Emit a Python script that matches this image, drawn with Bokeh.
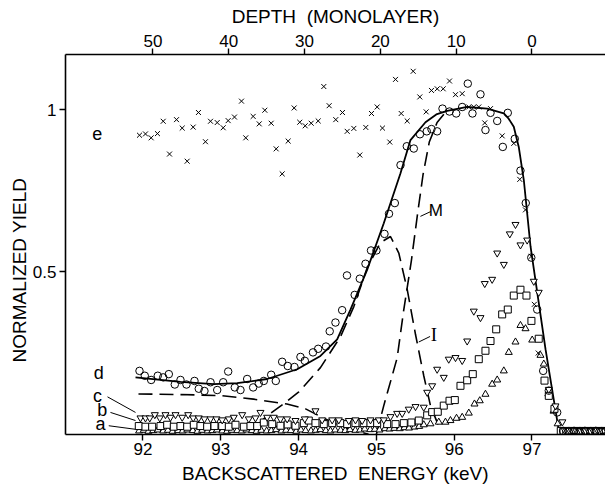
from bokeh.plotting import figure
from bokeh.models import Range1d, LinearAxis, FixedTicker, Title
from bokeh.embed import file_html
from bokeh.resources import INLINE
from bokeh.core.properties import value

# ---------------- data ----------------
x_ticks = [92, 93, 94, 95, 96, 97]
depth_ticks = [50, 40, 30, 20, 10, 0]
y_ticks = [0.5, 1]
y_tick_labels = {0.5: "0.5", 1: "1"}

# e : crosses
e_energy = [91.955, 92.032, 92.105, 92.186, 92.260, 92.341, 92.431, 92.504, 92.568, 92.645,
            92.713, 92.803, 92.868, 92.954, 93.031, 93.095, 93.176, 93.266, 93.321, 93.416,
            93.494, 93.566, 93.648, 93.712, 93.789, 93.866, 93.943, 94.015, 94.085, 94.162,
            94.252, 94.324, 94.393, 94.478, 94.564, 94.625, 94.710, 94.787, 94.864, 94.937,
            95.010, 95.078, 95.172, 95.246, 95.319, 95.396, 95.473, 95.558, 95.640, 95.708,
            95.782, 95.859, 95.940, 96.017, 96.103, 96.188, 96.252, 96.316, 96.393, 96.467,
            96.617, 96.766, 96.843, 96.916, 96.990, 97.03, 97.08]
e_yield = [0.921, 0.925, 0.913, 0.926, 0.964, 0.863, 0.969, 0.943, 0.841, 0.946,
           0.991, 0.901, 0.964, 0.960, 0.944, 0.966, 0.977, 1.026, 0.913, 0.979,
           0.956, 0.998, 0.958, 0.879, 0.802, 0.903, 1.005, 0.961, 0.950, 0.958,
           0.965, 1.071, 1.012, 0.969, 0.991, 0.933, 0.942, 0.860, 0.945, 0.988,
           1.008, 0.943, 0.900, 1.093, 0.988, 0.965, 1.118, 1.039, 0.993, 1.059,
           1.064, 1.064, 1.088, 1.046, 1.049, 1.008, 1.008, 1.008, 0.959, 1.003,
           0.919, 0.896, 0.785, 0.691, 0.548, 0.40, 0.25]

# d : open circles
d_energy = [91.955, 92.023, 92.105, 92.190, 92.260, 92.332, 92.409, 92.482, 92.559, 92.662,
            92.717, 92.790, 92.868, 92.954, 93.031, 93.095, 93.180, 93.253, 93.339, 93.416,
            93.488, 93.553, 93.648, 93.707, 93.789, 93.861, 93.947, 94.024, 94.080, 94.185,
            94.252, 94.352, 94.400, 94.474, 94.560, 94.622, 94.721, 94.787, 94.860, 94.931,
            95.001, 95.104, 95.162, 95.237, 95.310, 95.391, 95.481, 95.560, 95.648, 95.708,
            95.781, 95.850, 95.940, 96.026, 96.103, 96.175, 96.235, 96.338, 96.402, 96.467,
            96.553, 96.625, 96.689, 96.779, 96.852, 96.920, 96.991, 97.067, 97.144, 97.216,
            97.324, 97.40, 97.47, 97.54, 97.61, 97.68, 97.75, 97.82, 97.89, 97.95]
d_yield = [0.195, 0.180, 0.167, 0.180, 0.175, 0.185, 0.153, 0.167, 0.153, 0.164,
           0.140, 0.133, 0.160, 0.136, 0.160, 0.193, 0.144, 0.136, 0.170, 0.144,
           0.156, 0.164, 0.183, 0.164, 0.223, 0.210, 0.207, 0.238, 0.226, 0.252,
           0.263, 0.270, 0.317, 0.344, 0.382, 0.489, 0.429, 0.479, 0.525, 0.566,
           0.566, 0.617, 0.679, 0.712, 0.829, 0.887, 0.880, 0.924, 0.933, 0.940,
           0.933, 1.003, 0.994, 0.988, 1.008, 1.080, 0.988, 1.047, 0.937, 0.990,
           0.965, 0.885, 0.990, 0.910, 0.812, 0.712, 0.544, 0.384, 0.195, 0.134,
           0.067, 0.010, 0.008, 0.010, 0.008, 0.010, 0.008, 0.010, 0.008, 0.010]

# c : inverted triangles
c_energy = [91.968, 92.032, 92.087, 92.152, 92.216, 92.289, 92.353, 92.418, 92.504, 92.581,
            92.645, 92.717, 92.790, 92.868, 92.945, 93.018, 93.103, 93.167, 93.275, 93.360,
            93.446, 93.510, 93.596, 93.681, 93.767, 93.853, 93.960, 94.080, 94.217, 94.303,
            94.432, 94.517, 94.645, 94.731, 94.817, 94.924, 95.031, 95.095, 95.181, 95.267,
            95.332, 95.416, 95.503, 95.609, 95.653, 95.717, 95.781, 95.866, 95.930, 96.017,
            96.103, 96.167, 96.252, 96.338, 96.393, 96.488, 96.553, 96.638, 96.715, 96.788,
            96.852, 96.938, 97.023, 97.087, 97.216, 97.302, 97.391, 97.42, 97.45, 97.48,
            97.51, 97.54, 97.57, 97.60, 97.63, 97.66, 97.69, 97.72, 97.75, 97.78,
            97.81, 97.84, 97.87, 97.90, 97.93]
c_yield = [0.050, 0.050, 0.050, 0.060, 0.050, 0.060, 0.052, 0.060, 0.052, 0.060,
           0.050, 0.050, 0.047, 0.047, 0.047, 0.044, 0.047, 0.052, 0.060, 0.047,
           0.050, 0.067, 0.052, 0.052, 0.047, 0.047, 0.042, 0.047, 0.072, 0.044,
           0.044, 0.044, 0.042, 0.044, 0.042, 0.044, 0.044, 0.044, 0.054, 0.064,
           0.064, 0.077, 0.085, 0.083, 0.129, 0.149, 0.200, 0.175, 0.231, 0.236,
           0.227, 0.287, 0.379, 0.359, 0.464, 0.477, 0.558, 0.523, 0.617, 0.646,
           0.583, 0.598, 0.471, 0.437, 0.138, 0.087, 0.038, 0.012, 0.010, 0.012,
           0.010, 0.012, 0.010, 0.012, 0.010, 0.012, 0.010, 0.012, 0.010, 0.012,
           0.010, 0.012, 0.010, 0.012, 0.010]

# b : open squares
b_energy = [91.946, 92.032, 92.118, 92.225, 92.311, 92.396, 92.482, 92.568, 92.653, 92.739,
            92.825, 92.919, 93.018, 93.103, 93.189, 93.296, 93.382, 93.468, 93.553, 93.661,
            93.767, 93.860, 93.960, 94.067, 94.131, 94.217, 94.324, 94.432, 94.539, 94.625,
            94.731, 94.838, 94.924, 95.010, 95.139, 95.246, 95.352, 95.450, 95.545, 95.653,
            95.717, 95.789, 95.866, 95.940, 96.008, 96.081, 96.167, 96.239, 96.316, 96.402,
            96.467, 96.540, 96.617, 96.689, 96.766, 96.852, 96.929, 96.993, 97.087, 97.161,
            97.216, 97.289, 97.37, 97.405, 97.44, 97.475, 97.51, 97.545, 97.58, 97.615,
            97.65, 97.685, 97.72, 97.755, 97.79, 97.825, 97.86, 97.895, 97.93]
b_yield = [0.025, 0.023, 0.023, 0.025, 0.029, 0.023, 0.025, 0.023, 0.029, 0.025,
           0.023, 0.025, 0.025, 0.023, 0.029, 0.023, 0.025, 0.025, 0.036, 0.031,
           0.026, 0.030, 0.026, 0.034, 0.042, 0.034, 0.031, 0.034, 0.034, 0.031,
           0.034, 0.034, 0.034, 0.034, 0.031, 0.031, 0.034, 0.036, 0.042, 0.058,
           0.068, 0.069, 0.088, 0.103, 0.105, 0.149, 0.166, 0.185, 0.231, 0.257,
           0.287, 0.323, 0.369, 0.384, 0.427, 0.445, 0.427, 0.349, 0.294, 0.165,
           0.118, 0.078, 0.010, 0.008, 0.010, 0.008, 0.010, 0.008, 0.010, 0.008,
           0.010, 0.008, 0.010, 0.008, 0.010, 0.008, 0.010, 0.008, 0.010]

# a : open triangles
a_energy = [91.95, 92.01, 92.07, 92.13, 92.19, 92.26, 92.32, 92.38, 92.45, 92.51,
            92.57, 92.64, 92.70, 92.76, 92.83, 92.89, 92.95, 93.02, 93.08, 93.14,
            93.21, 93.27, 93.33, 93.40, 93.46, 93.52, 93.59, 93.65, 93.71, 93.78,
            93.84, 93.90, 93.97, 94.03, 94.09, 94.16, 94.22, 94.28, 94.35, 94.41,
            94.47, 94.54, 94.60, 94.66, 94.73, 94.79, 94.85, 94.92, 94.98, 95.04,
            95.11, 95.17, 95.23, 95.30, 95.36, 95.42, 95.49, 95.55,
            95.609, 95.695, 95.802, 95.888, 95.952, 96.030, 96.103, 96.188, 96.261, 96.329,
            96.402, 96.488, 96.553, 96.638, 96.702, 96.788, 96.852, 96.917, 97.003, 97.109,
            97.152, 97.21, 97.277, 97.33, 97.40, 97.47, 97.54, 97.61, 97.68, 97.75,
            97.82, 97.89, 97.94]
a_yield = [0.010, 0.012, 0.009, 0.011, 0.013, 0.010, 0.012, 0.009, 0.011, 0.010,
           0.013, 0.011, 0.009, 0.012, 0.010, 0.011, 0.013, 0.010, 0.009, 0.012,
           0.011, 0.010, 0.013, 0.011, 0.009, 0.012, 0.010, 0.011, 0.014, 0.010,
           0.012, 0.011, 0.009, 0.013, 0.011, 0.010, 0.012, 0.014, 0.011, 0.010,
           0.013, 0.012, 0.011, 0.014, 0.012, 0.013, 0.016, 0.014, 0.015, 0.013,
           0.017, 0.016, 0.018, 0.017, 0.020, 0.019, 0.022, 0.024,
           0.029, 0.032, 0.037, 0.037, 0.042, 0.049, 0.052, 0.065, 0.093, 0.103,
           0.123, 0.154, 0.167, 0.195, 0.252, 0.284, 0.335, 0.325, 0.290, 0.243,
           0.216, 0.124, 0.071, 0.032, 0.006, 0.006, 0.006, 0.006, 0.006, 0.006,
           0.006, 0.006, 0.006]

# solid fitted curve
fit_energy = [91.904, 92.482, 92.910, 93.211, 93.596, 93.982, 94.281, 94.496, 94.667, 94.882,
              95.095, 95.310, 95.438, 95.631, 95.77, 95.910, 96.167, 96.424, 96.638, 96.70,
              96.766, 96.830, 96.895, 96.981, 97.174, 97.345, 97.40]
fit_yield = [0.175, 0.161, 0.154, 0.157, 0.170, 0.200, 0.241, 0.292, 0.384, 0.507,
             0.650, 0.804, 0.906, 0.961, 0.985, 0.996, 1.008, 1.003, 0.988, 0.972,
             0.947, 0.885, 0.783, 0.579, 0.262, 0.011, 0.0]

# dashed component I
I_energy = [93.446, 93.596, 93.806, 94.003, 94.281, 94.538, 94.710, 94.882, 95.053, 95.181,
            95.288, 95.396, 95.503, 95.609, 95.695, 95.824]
I_yield = [0.023, 0.057, 0.093, 0.130, 0.205, 0.300, 0.393, 0.513, 0.590, 0.609,
           0.558, 0.446, 0.307, 0.180, 0.088, 0.011]

# dashed component M
M_energy = [95.00, 95.095, 95.267, 95.35, 95.45, 95.53, 95.60, 95.68, 95.78, 95.90]
M_yield = [0.0, 0.088, 0.235, 0.38, 0.535, 0.68, 0.80, 0.90, 0.96, 0.995]

# dashed background component
base_energy = [91.942, 92.482, 92.996, 93.42, 93.85, 94.09, 94.30, 94.47, 94.70, 94.90]
base_yield = [0.124, 0.122, 0.119, 0.108, 0.093, 0.078, 0.052, 0.032, 0.012, 0.0]

# ---------------- figure ----------------
FONT = "Liberation Sans"

p = figure(width=605, height=486, output_backend="svg", toolbar_location=None,
           x_range=Range1d(91.004, 97.945), y_range=Range1d(-0.001, 1.1697),
           x_axis_location=None, y_axis_location=None,
           min_border_left=65, min_border_right=0, min_border_top=54, min_border_bottom=51,
           background_fill_color="white", border_fill_color="white")
p.outline_line_color = None
p.xgrid.visible = False
p.ygrid.visible = False

p.extra_x_ranges = {"depth": Range1d(61.54, -9.70)}

bottom_axis = LinearAxis(ticker=FixedTicker(ticks=x_ticks),
                         axis_label="BACKSCATTERED\u00a0 ENERGY (keV)")
left_axis = LinearAxis(ticker=FixedTicker(ticks=y_ticks),
                       major_label_overrides=y_tick_labels)
top_axis = LinearAxis(x_range_name="depth", ticker=FixedTicker(ticks=depth_ticks),
                      axis_label="DEPTH\u00a0 (MONOLAYER)")

for ax in [bottom_axis, left_axis, top_axis]:
    ax.axis_line_color = "black"
    ax.axis_line_width = 1.6
    ax.major_tick_line_color = "black"
    ax.major_tick_line_width = 1.4
    ax.major_tick_in = 0
    ax.major_tick_out = 6
    ax.minor_tick_line_color = None
    ax.major_label_text_font = FONT
    ax.major_label_text_font_size = "17px"
    ax.major_label_text_color = "black"
    ax.axis_label_text_font = FONT
    ax.axis_label_text_font_size = "19px"
    ax.axis_label_text_font_style = "normal"
    ax.axis_label_text_color = "black"
    ax.major_label_standoff = 2
    ax.axis_label_standoff = 2
left_axis.major_label_standoff = 3
top_axis.axis_label_standoff = 5
bottom_axis.axis_label_standoff = 5

p.add_layout(bottom_axis, "below")
p.add_layout(left_axis, "left")
p.add_layout(top_axis, "above")

ylab = Title(text="NORMALIZED YIELD", align="left", offset=72,
             text_font=FONT, text_font_size="19px", text_font_style="normal",
             text_color="black", standoff=0)
p.add_layout(ylab, "left")

# curves
DASH = "14 7"
p.line(fit_energy, fit_yield, line_color="black", line_width=1.8)
p.line(I_energy, I_yield, line_color="black", line_width=1.6, line_dash=DASH)
p.line(M_energy, M_yield, line_color="black", line_width=1.6, line_dash=DASH)
p.line(base_energy, base_yield, line_color="black", line_width=1.6, line_dash=DASH)

# points
p.scatter(a_energy, a_yield, marker="triangle", size=7, fill_color="white",
          line_color="black", line_width=1)
p.scatter(b_energy, b_yield, marker="square", size=7, fill_color="white",
          line_color="black", line_width=1)
p.scatter(c_energy, c_yield, marker="inverted_triangle", size=7, fill_color="white",
          line_color="black", line_width=1)
p.scatter(d_energy, d_yield, marker="circle", size=7.5, fill_color=None,
          line_color="black", line_width=1)
p.scatter(e_energy, e_yield, marker="x", size=7, line_color="black", line_width=1)

# series letters and leader lines
p.text(x=[91.411, 91.432, 91.415, 91.476, 91.454], y=[0.926, 0.190, 0.117, 0.075, 0.030],
       text=["e", "d", "c", "b", "a"], text_font=value(FONT), text_font_size="18px",
       text_align="center", text_baseline="middle", text_color="black")
p.segment(x0=[91.544, 91.582, 91.560], y0=[0.115, 0.067, 0.026],
          x1=[91.904, 91.904, 91.904], y1=[0.067, 0.042, 0.015],
          line_color="black", line_width=1)

p.text(x=[95.765], y=[0.690], text=["M"], text_font=value(FONT), text_font_size="17px",
       text_align="center", text_baseline="middle", text_color="black")
p.text(x=[95.74], y=[0.308], text=["I"], text_font=value("Liberation Serif"),
       text_font_size="19px", text_align="center", text_baseline="middle", text_color="black")
p.segment(x0=[95.700, 95.690], y0=[0.686, 0.301], x1=[95.566, 95.545], y1=[0.671, 0.284],
          line_color="black", line_width=1)

open("out.html", "w").write(file_html(p, INLINE))
